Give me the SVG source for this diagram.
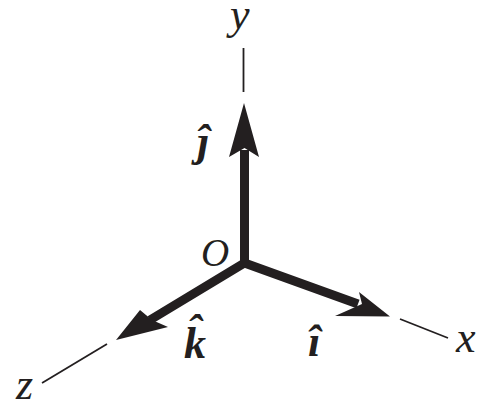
<svg xmlns="http://www.w3.org/2000/svg" width="483" height="404" viewBox="0 0 483 404">
<style>
.lbl{font-family:"Liberation Serif","Times New Roman",serif;font-style:italic;font-size:44px;fill:#231f20}
.o{font-size:39px}
.vec{font-family:"Liberation Serif","Times New Roman",serif;font-style:italic;font-weight:bold;font-size:44px;fill:#231f20}
.thin{stroke:#231f20;stroke-width:1.8;fill:none}
.shaft{stroke:#231f20;stroke-width:9;fill:none;stroke-linejoin:miter;stroke-miterlimit:10}
.head{fill:#231f20;stroke:none}
</style>
<rect width="483" height="404" fill="#fff"/>
<g id="connectors">
<line class="thin" x1="243.5" y1="48" x2="243.5" y2="92"/>
<line class="thin" x1="400" y1="319" x2="448" y2="338"/>
<line class="thin" x1="107" y1="344" x2="42" y2="383"/>
<path class="shaft" d="M150,320 L244.5,263 L358,304"/>
<path class="shaft" d="M244.5,150 L244.5,266"/>
<polygon class="head" points="244,103 259,157 244.5,148 229,157"/>
<polygon class="head" points="390,316.5 335,316 362,304 359,292"/>
<polygon class="head" points="116,340 140,310 152,320 168,327"/>
</g>
<g id="origin"><text class="lbl o" x="201" y="266">O</text></g>
<g id="axis-y"><text class="lbl" x="230" y="29">y</text></g>
<g id="axis-x"><text class="lbl" x="456" y="352">x</text></g>
<g id="axis-z"><text class="lbl" x="16" y="399">z</text></g>
<g id="unit-j"><text class="vec" x="197" y="156">ĵ</text></g>
<g id="unit-i"><text class="vec" x="308" y="356">î</text></g>
<g id="unit-k"><text class="vec" x="184" y="358">k<tspan dx="-19" dy="-13">ˆ</tspan></text></g>
</svg>
